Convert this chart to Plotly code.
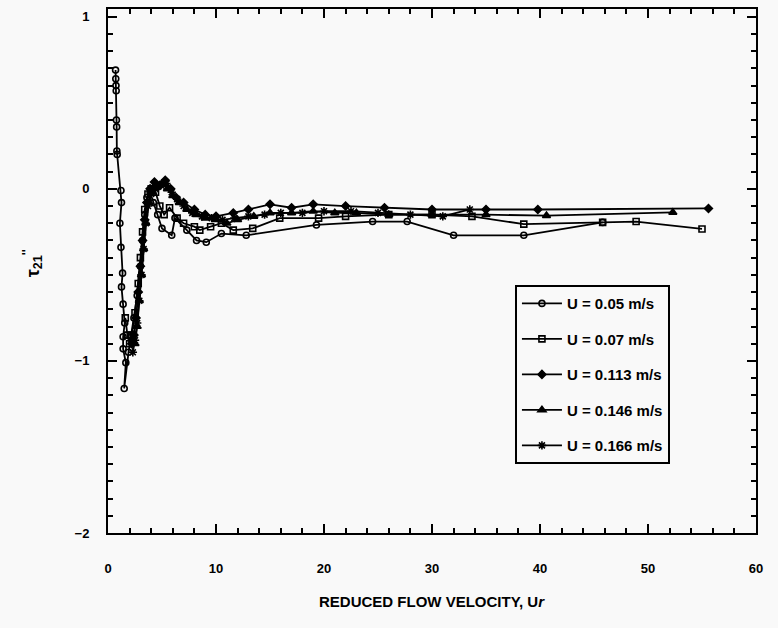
import plotly.graph_objects as go

# ---- data ----
labels = ["U = 0.05 m/s", "U = 0.07 m/s", "U = 0.113 m/s", "U = 0.146 m/s", "U = 0.166 m/s"]

x_005 = [0.70, 0.72, 0.74, 0.76, 0.78, 0.80, 0.82, 0.85, 1.20, 1.25, 1.10, 1.20, 1.35, 1.25, 1.40,
         1.55, 1.40, 1.40, 1.65, 1.50, 1.90, 2.10, 2.40, 2.70, 3.00, 3.20, 3.40, 3.60, 3.90, 4.20,
         4.60, 5.00, 5.90, 6.20, 7.30, 8.20, 9.10, 10.5, 12.8, 19.3, 24.5, 27.7, 32.0, 38.5, 45.8]
y_005 = [0.69, 0.64, 0.60, 0.57, 0.40, 0.36, 0.22, 0.20, -0.01, -0.08, -0.20, -0.34, -0.49, -0.57, -0.67,
         -0.78, -0.86, -0.93, -1.01, -1.16, -0.95, -0.86, -0.75, -0.62, -0.45, -0.30, -0.15, -0.05, -0.02, -0.08,
         -0.15, -0.23, -0.27, -0.17, -0.24, -0.30, -0.31, -0.26, -0.27, -0.21, -0.19, -0.19, -0.27, -0.27, -0.195]

x_007 = [1.6, 1.8, 2.0, 2.2, 2.5, 2.8, 3.0, 3.2, 3.4, 3.7, 4.0, 4.4, 4.8, 5.2, 5.7, 6.4, 7.0, 8.0,
         8.5, 9.5, 10.5, 11.6, 13.4, 15.9, 19.5, 22.0, 26.0, 30.0, 33.7, 38.5, 45.8, 48.9, 55.0]
y_007 = [-0.75, -0.85, -0.90, -0.85, -0.72, -0.55, -0.40, -0.25, -0.12, -0.03, 0.00, -0.02, -0.10, -0.15,
         -0.11, -0.17, -0.20, -0.22, -0.24, -0.22, -0.20, -0.24, -0.23, -0.17, -0.17, -0.16, -0.15, -0.15,
         -0.16, -0.205, -0.195, -0.19, -0.233]

x_0113 = [2.2, 2.4, 2.6, 2.8, 3.0, 3.2, 3.4, 3.6, 3.9, 4.3, 4.8, 5.3, 5.8, 6.3, 7.0, 8.0, 9.0, 10.0,
          11.6, 13.0, 15.0, 17.0, 19.0, 22.0, 25.6, 30.0, 35.0, 39.8, 55.6]
y_0113 = [-0.90, -0.85, -0.75, -0.60, -0.45, -0.30, -0.18, -0.08, 0.00, 0.04, 0.02, 0.05, 0.00, -0.05,
          -0.08, -0.12, -0.15, -0.16, -0.14, -0.12, -0.09, -0.11, -0.09, -0.10, -0.11, -0.12, -0.12, -0.12, -0.114]

x_0146 = [2.5, 2.7, 2.9, 3.1, 3.3, 3.5, 3.8, 4.1, 4.5, 5.0, 5.5, 6.0, 6.6, 7.3, 8.2, 9.0, 10.0, 11.0,
          12.0, 13.5, 15.0, 17.0, 19.0, 21.0, 23.0, 26.0, 30.0, 35.0, 40.6, 52.3]
y_0146 = [-0.90, -0.80, -0.65, -0.50, -0.35, -0.20, -0.08, -0.02, 0.01, 0.03, 0.00, -0.04, -0.08, -0.12,
          -0.15, -0.17, -0.18, -0.20, -0.18, -0.16, -0.14, -0.14, -0.13, -0.14, -0.14, -0.15, -0.15, -0.15,
          -0.156, -0.137]

x_0166 = [2.3, 2.5, 2.7, 2.9, 3.1, 3.3, 3.5, 3.7, 4.0, 4.4, 4.9, 5.4, 5.9, 6.4, 7.0, 7.8, 8.7, 9.6,
          10.6, 11.7, 13.0, 14.5, 16.0, 18.0, 20.0, 22.5, 25.0, 28.0, 31.0, 33.5]
y_0166 = [-0.95, -0.88, -0.78, -0.65, -0.50, -0.35, -0.20, -0.10, -0.03, 0.00, 0.02, 0.03, -0.02, -0.06,
          -0.10, -0.14, -0.16, -0.17, -0.18, -0.17, -0.16, -0.15, -0.14, -0.14, -0.13, -0.13, -0.14, -0.15,
          -0.16, -0.12]

xs = [x_005, x_007, x_0113, x_0146, x_0166]
ys = [y_005, y_007, y_0113, y_0146, y_0166]
symbols = ["circle-open", "square-open", "diamond", "triangle-up", "asterisk-open"]
sizes = [6, 6, 6, 7, 7]

x_ticks = [0, 10, 20, 30, 40, 50, 60]
y_ticks = [-2, -1, 0, 1]

fig = go.Figure()
for i in range(5):
    fig.add_trace(go.Scatter(
        x=xs[i], y=ys[i], mode="lines+markers", name=labels[i],
        legendgroup=str(i),
        line=dict(color="black", width=1.8),
        marker=dict(symbol=symbols[i], size=sizes[i], color="black",
                    line=dict(color="black", width=1.6)),
    ))

font_main = "Liberation Sans, Arial"

axis_common = dict(
    showline=True, linewidth=2, linecolor="black", mirror="ticks",
    ticks="inside", tickcolor="black", tickwidth=1.5, ticklen=9,
    showgrid=False, zeroline=False,
    tickfont=dict(family=font_main, size=13, color="black", weight="bold"),
)

fig.update_xaxes(range=[0, 60], tickvals=x_ticks, ticklabelstandoff=22,
                 minor=dict(ticks="inside", dtick=2, ticklen=5, tickcolor="black", tickwidth=1.5),
                 **axis_common)
fig.update_yaxes(range=[-2, 1.045], tickvals=y_ticks, ticklabelstandoff=14,
                 tickformat="d",
                 minor=dict(ticks="inside", dtick=0.1, ticklen=5, tickcolor="black", tickwidth=1.5),
                 **axis_common)

fig.update_layout(
    width=778, height=628,
    margin=dict(l=108, r=22, t=7, b=95),
    paper_bgcolor="#f9f9f9", plot_bgcolor="#f9f9f9",
    showlegend=True,
    legend=dict(x=0.628, y=0.473, xanchor="left", yanchor="top",
                bordercolor="black", borderwidth=2, bgcolor="#f9f9f9",
                font=dict(family=font_main, size=15, color="black", weight="bold"),
                tracegroupgap=13, itemwidth=40),
    annotations=[
        dict(text="REDUCED FLOW VELOCITY, U<i>r</i>", xref="paper", yref="paper",
             x=0.5, y=-0.131, xanchor="center", yanchor="middle", showarrow=False,
             font=dict(family=font_main, size=15, color="black", weight="bold")),
        dict(text="τ<sub>21</sub><sup>''</sup>", xref="paper", yref="paper",
             x=-0.117, y=0.515, xanchor="center", yanchor="middle", showarrow=False,
             textangle=-90,
             font=dict(family=font_main, size=18, color="black", weight="bold")),
    ],
)

fig.write_html("out.html")
